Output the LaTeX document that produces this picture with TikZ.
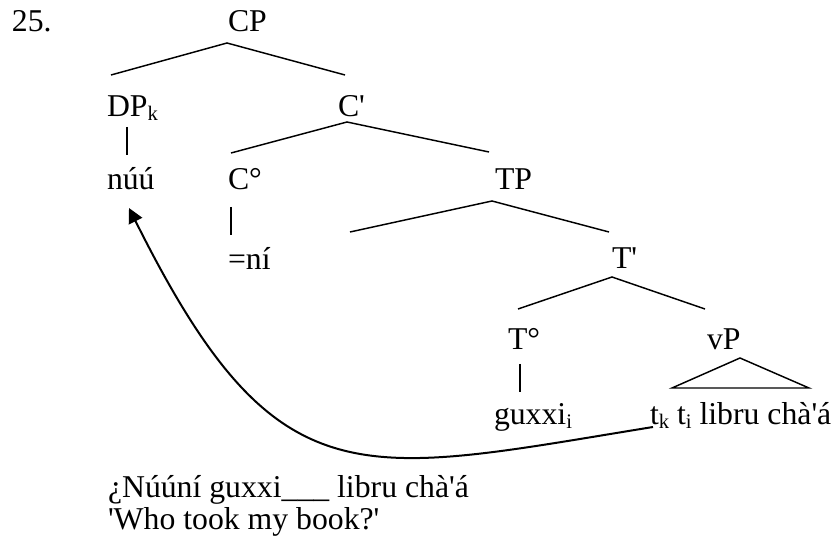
\documentclass[tikz,border=0pt]{standalone}
\usepackage{fontspec}
\setmainfont{Liberation Serif}[Ligatures=TeXOff]
\usetikzlibrary{arrows.meta}
\newcommand{\sbs}[1]{\raisebox{-2.6pt}{\fontsize{15.5pt}{15.5pt}\selectfont #1}}
\tikzset{
  lbl/.style={anchor=base west, inner sep=0pt, outer sep=0pt, font=\fontsize{23.8pt}{28pt}\selectfont},
  branch/.style={line width=1.1pt},
  move/.style={line width=1.5pt, -{Triangle[length=11pt,width=11pt]}}
}
\begin{document}
\begin{tikzpicture}[x=0.75pt,y=-0.75pt]
\useasboundingbox (0,0) rectangle (833,545);
% labels
\node[lbl] (num) at (12,32) {25.};
\node[lbl] (CP) at (228,32) {CP};
\node[lbl] (DP) at (107,117) {DP\sbs{k}};
\node[lbl] (Cbar) at (338,117) {C'};
\node[lbl] (nuu) at (107,190) {núú};
\node[lbl] (C0) at (228,190) {C°};
\node[lbl] (ni) at (228,270) {=ní};
\node[lbl] (TP) at (495,190) {TP};
\node[lbl] (Tbar) at (612,269) {T'};
\node[lbl] (T0) at (508,350) {T°};
\node[lbl] (vP) at (707,350) {vP};
\node[lbl] (guxxi) at (494,425) {guxxi\sbs{i}};
\node[lbl] (vPtxt) at (650,425) {t\sbs{k} t\sbs{i} libru chà'á};
\node[lbl] (ex1) at (108,498) {¿Núúní guxxi\_\_\_ libru chà'á};
\node[lbl] (ex2) at (108,530) {'Who took my book?'};
% branch points
\coordinate (cpA) at (227,43);
\coordinate (cpL) at (111,75);
\coordinate (cpR) at (345,75);
\coordinate (cbA) at (347,122);
\coordinate (cbL) at (231,153);
\coordinate (cbR) at (489,152);
\coordinate (tpA) at (492,201);
\coordinate (tpL) at (350,232);
\coordinate (tpR) at (609,232);
\coordinate (tbA) at (612,277);
\coordinate (tbL) at (518,309);
\coordinate (tbR) at (705,309);
\coordinate (dpT) at (127,127);
\coordinate (dpB) at (127,155);
\coordinate (c0T) at (231,207);
\coordinate (c0B) at (231,235);
\coordinate (t0T) at (520,364);
\coordinate (t0B) at (520,392);
\coordinate (vpA) at (740,358);
\coordinate (vpL) at (672,388);
\coordinate (vpR) at (809,388);
\coordinate (mvS) at (653,427);
\coordinate (mvE) at (129,208);
% branches
\draw[branch] (cpL) -- (cpA) -- (cpR);
\draw[branch] (cbL) -- (cbA) -- (cbR);
\draw[branch] (tpL) -- (tpA) -- (tpR);
\draw[branch] (tbL) -- (tbA) -- (tbR);
\draw[branch] (dpT) -- (dpB);
\draw[branch] (c0T) -- (c0B);
\draw[branch] (t0T) -- (t0B);
\draw[branch] (vpL) -- (vpA) -- (vpR) -- cycle;
% movement arrow
\draw[move] (mvS) .. controls (357,475) and (277,505) .. (mvE);
\end{tikzpicture}
\end{document}
